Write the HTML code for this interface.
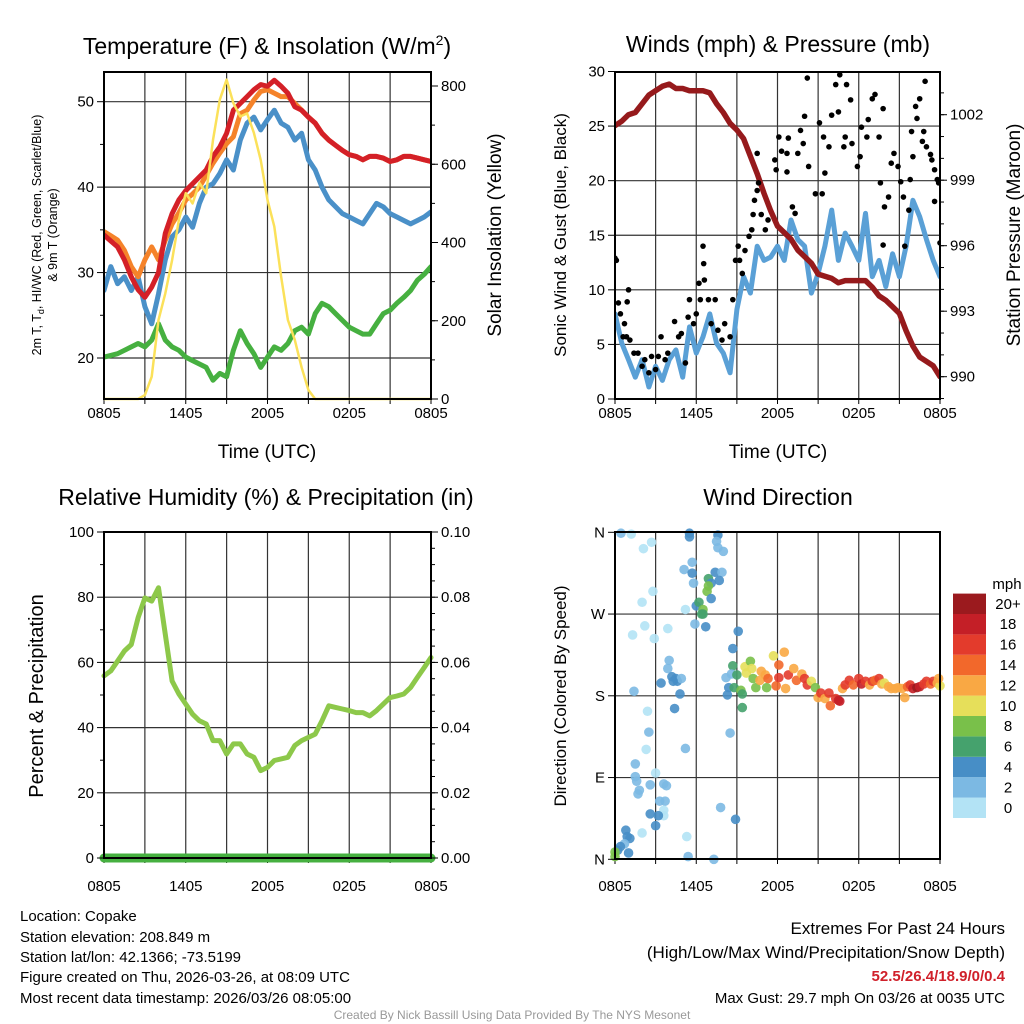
<!DOCTYPE html>
<html><head><meta charset="utf-8"><style>
html,body{margin:0;padding:0;background:#fff;}
svg{display:block;font-family:"Liberation Sans",sans-serif;}
</style></head><body>
<svg id="c" width="1024" height="1024" viewBox="0 0 1024 1024" xmlns="http://www.w3.org/2000/svg">
<rect width="1024" height="1024" fill="#fff"/>
<g id="g1"></g>
<g id="g2"></g>
<g id="g3"></g>
<g id="g4"></g>

<text x="267" y="54" font-size="23" text-anchor="middle">Temperature (F) &amp; Insolation (W/m<tspan font-size="14" dy="-9">2</tspan><tspan dy="9">)</tspan></text>
<text x="778" y="52" font-size="23" text-anchor="middle">Winds (mph) &amp; Pressure (mb)</text>
<text x="266" y="505" font-size="23" text-anchor="middle">Relative Humidity (%) &amp; Precipitation (in)</text>
<text x="778" y="505" font-size="23" text-anchor="middle">Wind Direction</text>

<text x="267" y="458" font-size="19" text-anchor="middle">Time (UTC)</text>
<text x="778" y="458" font-size="19" text-anchor="middle">Time (UTC)</text>

<text transform="translate(41,235) rotate(-90)" font-size="12.5" text-anchor="middle">2m T, T<tspan font-size="9" dy="3">d</tspan><tspan dy="-3">, HI/WC (Red, Green, Scarlet/Blue)</tspan></text>
<text transform="translate(57,235) rotate(-90)" font-size="12.5" text-anchor="middle">&amp; 9m T (Orange)</text>
<text transform="translate(501,235) rotate(-90)" font-size="19" text-anchor="middle">Solar Insolation (Yellow)</text>
<text transform="translate(566,235) rotate(-90)" font-size="17" text-anchor="middle">Sonic Wind &amp; Gust (Blue, Black)</text>
<text transform="translate(1020,235) rotate(-90)" font-size="19" text-anchor="middle">Station Pressure (Maroon)</text>
<text transform="translate(43,696) rotate(-90)" font-size="20" text-anchor="middle">Percent &amp; Precipitation</text>
<text transform="translate(566,696) rotate(-90)" font-size="17" text-anchor="middle">Direction (Colored By Speed)</text>

<g font-size="15">
<text x="20" y="921">Location: Copake</text>
<text x="20" y="942">Station elevation: 208.849 m</text>
<text x="20" y="962">Station lat/lon: 42.1366; -73.5199</text>
<text x="20" y="982">Figure created on Thu, 2026-03-26, at 08:09 UTC</text>
<text x="20" y="1003">Most recent data timestamp: 2026/03/26 08:05:00</text>
</g>
<g text-anchor="end">
<text x="1005" y="934" font-size="17">Extremes For Past 24 Hours</text>
<text x="1005" y="958" font-size="17">(High/Low/Max Wind/Precipitation/Snow Depth)</text>
<text x="1005" y="981" font-size="15" font-weight="bold" fill="#d0202a">52.5/26.4/18.9/0/0.4</text>
<text x="1005" y="1003" font-size="15">Max Gust: 29.7 mph On 03/26 at 0035 UTC</text>
</g>
<text x="512" y="1019" font-size="12" fill="#999" text-anchor="middle">Created By Nick Bassill Using Data Provided By The NYS Mesonet</text>
</svg>
<script>
// ---------- data ----------
const timeLabels = ["0805","1405","2005","0205","0805"];
const tHalf = [0,0.5,1,1.5,2,2.5,3,3.5,4,4.5,5,5.5,6,6.5,7,7.5,8,8.5,9,9.5,10,10.5,11,11.5,12,12.5,13,13.5,14,14.5,15,15.5,16,16.5,17,17.5,18,18.5,19,19.5,20,20.5,21,21.5,22,22.5,23,23.5,24];
const tempRed = [34.4,33.7,33,31.5,29.5,28,27.1,28.3,30,34.6,36.9,38.5,39.6,40.4,41.2,42,43.6,44.7,46.3,49,49.8,50.6,51.4,52,51.8,52.5,51.8,51,49.4,49,48.2,47.5,46.3,45.5,44.9,44.3,43.8,43.6,43.2,43.6,43.6,43.4,43,43.2,43.6,43.6,43.4,43.2,43];
const temp9m = [34.8,34.3,33.8,32.6,30.7,29.5,31.5,33,31.5,33.8,35.7,37,38.5,39.2,40,41.4,42.8,44,45.1,45.9,48.6,49,50.2,51.2,51.4,51,50.6,50.6,49.8,49,48.2,47.5,46.3,45.5,44.9,44.3,43.8,43.6,43.2,43.6,43.6,43.4,43,43.2,43.6,43.6,43.4,43.2,43];
const hiwcBlue = [27.9,30.7,28.7,29.5,27.9,29.5,26,24,27.5,31.5,34.2,35,36.5,35.3,38.1,40,40.4,41.6,43.2,42,45.5,47.5,48.2,46.7,47.9,49,47.5,47,45.5,46.3,43.2,42,40,38.5,37.7,36.9,36.5,36.1,35.7,36.9,38.1,37.7,36.9,36.5,36.1,35.7,36.1,36.5,37.1];
const dewGreen = [20.1,20.3,20.5,20.9,21.3,21.7,21.3,22.1,24,22.1,21.3,20.9,20.1,19.7,19.3,18.9,17.4,18.2,17.8,20.9,23.2,21.7,20.5,18.9,20.1,21.3,20.9,21.7,23.2,23.6,22.8,25.2,26.4,26,25.2,24.4,23.6,23.2,22.8,22.8,24,25.2,25.6,26.4,27.1,27.9,29.1,29.8,30.7];
const solar = [0,0,0,0,0,0,10,57,202,270,355,458,526,500,552,526,662,765,816,756,722,730,680,611,509,441,313,202,151,81,23,0,0,0,0,0,0,0,0,0,0,0,0,0,0,0,0,0,0];
const pressure = [1001.5,1001.7,1002,1002.1,1002.5,1002.9,1003.1,1003.3,1003.4,1003.2,1003.2,1003.1,1003.1,1003.1,1003,1002.5,1002.1,1001.6,1001.3,1000.9,1000.1,999.3,998.4,997.6,996.9,996.6,996.3,995.8,995.5,995.2,994.7,994.6,994.5,994.3,994.4,994.4,994.4,994.4,994.1,993.7,993.5,993.2,992.9,992.1,991.4,990.9,990.7,990.5,990];
const windBlue = [7.8,5.1,3.6,2,3.6,1.1,3,1.7,3.6,4.5,2,6.6,4.2,5.7,7.8,5.1,4.2,2.4,8.2,11.2,9.7,14,12.7,13,14,12.7,16.4,14.6,14,9.7,11.5,14,17.3,12.7,15.2,14,12.7,17,11.2,12.7,10.3,13.3,11.2,14,18.2,16.7,14.6,12.7,11.2];
const rh = [55.9,57.4,60.4,63.5,65.5,73.7,79.8,78.8,82.9,68.6,54.3,50.3,47.2,44.1,42.1,41.1,36,36,31.9,35,35,31.9,30.9,26.8,27.8,29.9,30.4,30.9,34.5,36,37,38,42.1,46.7,46.2,45.7,45.2,44.6,44.6,43.6,45.2,47.2,49.2,49.7,50.3,52.3,55.4,58.4,61.5];
const precip = [0,0,0,0,0,0,0,0,0,0,0,0,0,0,0,0,0,0,0,0,0,0,0,0,0,0,0,0,0,0,0,0,0,0,0,0,0,0,0,0,0,0,0,0,0,0,0,0,0];
const gustT = [0,0.1,0.25,0.4,1,0.9,0.7,0.85,0.6,1.1,1.4,1.7,2,2.2,2.5,2.7,3,3.2,3.4,3.7,3.9,4.4,4.7,4.9,5.2,5.4,5.5,5.8,6,6.2,6.3,6.5,6.55,6.6,6.9,7.1,7.4,7.6,7.9,8.1,8.5,8.7,8.9,9.1,9.2,9.4,9.6,9.9,10.1,10.2,10.3,10.5,10.6,10.8,11.1,11.3,10.5,11.8,11.9,12.1,12.3,12.7,12.8,12.7,13.1,13.3,13.5,13.7,13.9,14.2,14.3,14,14.8,15.1,15.3,15.4,15.5,15.8,16,16.3,16.5,16.6,16.9,17,17.1,17.4,17.5,17.9,18.1,18.2,18.6,18.7,19,19.2,19.5,19.8,19.6,19.9,20.2,19.8,20.4,20.6,20.9,21.1,21.3,21.4,21.7,21.8,21.9,22,22.2,22.3,22.5,22.7,22.8,22.9,23,23.3,23.4,23.6,23.8,23.6,23.9,24];
const gustW = [12.9,12.7,8.8,7.8,10,8.9,6.9,5.7,5.7,5.4,4.2,4.2,3,3.6,2.4,3.9,2.7,3.9,5.7,3.6,4.2,7.1,5.7,6,3.3,7.5,9.1,6.9,7.8,10.6,9.1,14,12.4,10.9,9.1,6.9,9.1,6.3,5.4,6.9,5.7,9.1,12.7,14,12.7,11.5,13.6,14.9,15.5,16.9,18.2,19.1,19.8,16.9,15.5,16.4,22.5,21.9,21,24,22.7,22.5,23.9,20.8,17.6,17,22.5,24.6,23.4,29.4,21.3,25.9,18.8,25.3,18.8,24,20.7,23.1,26,28.8,26.3,29.7,23.1,24,28.8,27.4,23.4,21.3,22.2,24.9,24,25.6,27.5,27.9,24,26.6,19.8,17.6,18.5,14.1,21.6,22.5,21.3,19.9,18.5,14,17.3,20.1,24.5,22.2,26.8,25.7,27.5,23.6,24.5,29.1,23.1,22.4,21.9,21,20.1,18.1,19.8,14.3];
const dirT = [0.44,1.2,2.1,2.7,2.8,2,2.2,1.3,2.9,3.9,5.2,5.1,1.4,2.4,2.5,2.3,1.5,1.5,1.6,1.8,1.7,3,2.6,3.6,3.8,3.3,3.7,3.6,3.6,3.2,3,2.6,2,0.8,0.9,1.1,0.7,0.4,0.2,1,0,0,5.3,5.4,7.3,7.8,8.9,8.5,5.2,4.4,4.8,3.4,4,3.9,4.2,4.5,4.6,4.9,4.3,5.5,5.5,7.6,7.5,7.6,8,5.7,5.7,5.8,7.4,7.9,7.7,6.9,7.1,6.8,6.9,7.1,6,6.2,6.5,6.5,6.4,5.9,6.7,9.1,8.7,8.7,8.2,8.6,9,8.4,8.8,8.3,9.3,9.4,9.4,9.6,9.7,10,10.1,10.2,10.4,10.7,10.8,11.1,11.2,11.3,11.7,11.9,12.1,12.1,12.5,12.6,12.8,13.2,13.4,13.8,14,14.2,14.5,14.8,15,15.2,15.5,15.8,15.9,16.3,16.5,16.6,16.8,17,17.3,17.6,18,18.2,18.5,18.8,19,19.2,19.5,19.7,19.9,20.2,20.4,20.7,20.9,21.2,21.4,21.6,21.8,22,22.3,22.5,22.8,23,23.3,23.5,23.8,24,23.9];
const dirDeg = [359,358,342,349,295,283,257,247,243,254,275,319,185,163,140,121,105,91,86,76,72,95,82,83,81,64,64,54,48,48,37,50,29,32,25,23,17,14,10,7,8,3,25,3,0,57,44,139,122,166,182,194,219,210,201,199,196,199,196,359,355,357,350,343,339,327,315,304,316,316,307,309,304,295,301,287,279,283,275,270,270,259,256,251,232,213,200,204,203,189,189,181,186,182,167,212,205,218,210,199,189,197,207,203,189,199,224,191,214,200,228,188,203,210,197,204,199,192,196,189,178,183,177,183,169,177,175,174,188,192,197,192,199,193,196,192,196,197,199,193,194,190,188,188,189,188,178,190,192,188,189,190,193,196,193,196,194,191,199];
const dirSpd = [2,0,0,0,0,0,0,0,0,0,0,2,2,0,2,0,2,2,2,2,2,0,2,2,2,2,2,0,0,4,4,4,0,4,4,4,2,4,4,4,8,8,0,2,2,2,4,2,2,4,4,4,2,2,4,4,4,2,4,4,4,4,2,2,2,2,4,2,4,2,4,6,4,8,8,4,4,6,8,6,6,2,4,4,4,6,2,2,6,4,6,4,8,6,6,10,10,8,10,8,8,12,12,12,8,14,10,14,14,16,12,12,16,12,14,12,16,16,10,8,12,16,12,16,14,16,18,18,12,16,16,14,16,18,16,12,16,14,16,12,10,12,12,12,12,12,12,14,16,18,20,18,16,16,14,16,12,10,12];
const cbLabels = ["0","2","4","6","8","10","12","14","16","18","20+"];
const cbColors = ["#b3e3f5","#7cb9e3","#478ec6","#45a26d","#79c04a","#e6df5a","#f9a844","#f2682b","#e33b2c","#c41f27","#9b1a1e"];

// ---------- helpers ----------
const NS="http://www.w3.org/2000/svg";
function mk(parent,tag,attrs,txt){const e=document.createElementNS(NS,tag);for(const k in attrs)e.setAttribute(k,attrs[k]);if(txt!==undefined)e.textContent=txt;parent.appendChild(e);return e;}
function makeX(x0,x1){return t=>x0+(x1-x0)*t/24;}
function lin(v0,p0,v1,p1){return v=>p0+(v-v0)*(p1-p0)/(v1-v0);}
function pathD(xs,ys,ts,vals){return vals.map((v,i)=>(i?'L':'M')+xs(ts[i]).toFixed(1)+','+ys(v).toFixed(1)).join('');}

function frame(g,x0,x1,y0,y1,xs,hy,ly){
  for(let h=3;h<24;h+=3){const l=mk(g,'line',{x1:xs(h),x2:xs(h),y1:y0,y2:y1,stroke:'#333','stroke-width':1.2});
    }
  hy.forEach(y=>{const l=mk(g,'line',{x1:x0,x2:x1,y1:y,y2:y,stroke:'#333','stroke-width':1.2});
    });
  for(let h=0;h<=24;h+=3){mk(g,'line',{x1:xs(h),x2:xs(h),y1:y1,y2:y1+5,stroke:'#000','stroke-width':1});}
  timeLabels.forEach((s,i)=>{const t=mk(g,'text',{x:xs(i*6),y:ly,'font-size':15,'text-anchor':'middle'},s);
    });
}
function border(g,x0,x1,y0,y1){const r=mk(g,'rect',{x:x0,y:y0,width:x1-x0,height:y1-y0,fill:'none',stroke:'#000','stroke-width':2});
  }
function leftTicks(g,x0,ys,vals,labs,minor){
  minor.forEach(v=>mk(g,'line',{x1:x0-4,x2:x0,y1:ys(v),y2:ys(v),stroke:'#000','stroke-width':1}));
  vals.forEach((v,i)=>{mk(g,'line',{x1:x0-7,x2:x0,y1:ys(v),y2:ys(v),stroke:'#000','stroke-width':1});
    const t=mk(g,'text',{x:x0-10,y:ys(v)+5,'font-size':15,'text-anchor':'end'},labs[i]);
    });
}
function rightTicks(g,x1,ys,vals,labs,minor){
  minor.forEach(v=>mk(g,'line',{x1:x1,x2:x1+4,y1:ys(v),y2:ys(v),stroke:'#000','stroke-width':1}));
  vals.forEach((v,i)=>{mk(g,'line',{x1:x1,x2:x1+7,y1:ys(v),y2:ys(v),stroke:'#000','stroke-width':1});
    const t=mk(g,'text',{x:x1+10,y:ys(v)+5,'font-size':15},labs[i]);
    });
}
function series(g,d,col,w,name){const p=mk(g,'path',{d:d,fill:'none',stroke:col,'stroke-width':w,'stroke-linejoin':'round','stroke-linecap':'round'});
  return p;}
function range(a,b,s){const r=[];for(let v=a;v<=b+1e-9;v+=s)r.push(+v.toFixed(4));return r;}

// ---------- panel 1 ----------
(function(){
  const g=document.getElementById('g1');const x0=104,x1=431,y0=72,y1=399;
  const xs=makeX(x0,x1);const yT=lin(20,358,50,101.7);const yS=lin(0,399,800,86);
  frame(g,x0,x1,y0,y1,xs,[20,30,40,50].map(yT),418);
  const cp=mk(g,'clipPath',{id:'cp1'});mk(cp,'rect',{x:x0,y:y0-10,width:x1-x0,height:y1-y0+12});
  const s=mk(g,'g',{'clip-path':'url(#cp1)'});
  series(s,pathD(xs,yT,tHalf,dewGreen),'#46b040',5,'dewpoint-line');
  series(s,pathD(xs,yT,tHalf,hiwcBlue),'#4a90c8',5,'windchill-line');
  series(s,pathD(xs,yT,tHalf,temp9m),'#f5832a',5,'temp-9m-line');
  series(s,pathD(xs,yT,tHalf,tempRed),'#d42027',5,'temp-2m-line');
  series(s,pathD(xs,yS,tHalf,solar),'#fbe15a',2.5,'insolation-line');
  border(g,x0,x1,y0,y1);
  leftTicks(g,x0,yT,[20,30,40,50],['20','30','40','50'],[25,35,45]);
  rightTicks(g,x1,yS,[0,200,400,600,800],['0','200','400','600','800'],range(100,800,100));
})();

// ---------- panel 2 ----------
(function(){
  const g=document.getElementById('g2');const x0=615,x1=940,y0=72,y1=399;
  const xs=makeX(x0,x1);const yW=lin(0,399,30,71.5);const yP=lin(990,376.7,1002,114.7);
  frame(g,x0,x1,y0,y1,xs,[5,10,15,20,25].map(yW),418);
  const cp=mk(g,'clipPath',{id:'cp2'});mk(cp,'rect',{x:x0,y:y0-5,width:x1-x0,height:y1-y0+8});
  const s=mk(g,'g',{'clip-path':'url(#cp2)'});
  series(s,pathD(xs,yW,tHalf,windBlue),'#5aa0d6',5,'sonic-wind-line');
  series(s,pathD(xs,yP,tHalf,pressure),'#961a1c',5.5,'pressure-line');
  gustT.forEach((t,i)=>{const c=mk(s,'circle',{cx:xs(t),cy:yW(gustW[i]),r:2.8,fill:'#000'});
    });
  border(g,x0,x1,y0,y1);
  leftTicks(g,x0,yW,[0,5,10,15,20,25,30],['0','5','10','15','20','25','30'],[]);
  rightTicks(g,x1,yP,[990,993,996,999,1002],['990','993','996','999','1002'],range(989,1004,1).filter(v=>yP(v)>=y0&&yP(v)<=y1));
})();

// ---------- panel 3 ----------
(function(){
  const g=document.getElementById('g3');const x0=104,x1=431,y0=532,y1=858;
  const xs=makeX(x0,x1);const yR=lin(0,858,100,532);const yQ=lin(0,858,0.1,532);
  frame(g,x0,x1,y0,y1,xs,[20,40,60,80].map(yR),891);
  series(g,pathD(xs,yR,tHalf,rh),'#8dc84a',5,'humidity-line');
  series(g,pathD(xs,yQ,tHalf,precip),'#46b040',9,'precipitation-line');
  border(g,x0,x1,y0,y1);
  leftTicks(g,x0,yR,[0,20,40,60,80,100],['0','20','40','60','80','100'],[10,30,50,70,90]);
  rightTicks(g,x1,yQ,[0,0.02,0.04,0.06,0.08,0.1],['0.00','0.02','0.04','0.06','0.08','0.10'],range(0,0.1,0.005));
})();

// ---------- panel 4 ----------
(function(){
  const g=document.getElementById('g4');const x0=615,x1=940,y0=532,y1=859;
  const xs=makeX(x0,x1);const yD=lin(0,859.3,360,532.3);
  frame(g,x0,x1,y0,y1,xs,[90,180,270].map(yD),891);
  const cp=mk(g,'clipPath',{id:'cp4'});mk(cp,'rect',{x:x0-6,y:y0-6,width:x1-x0+12,height:y1-y0+12});
  const s=mk(g,'g',{'clip-path':'url(#cp4)'});
  dirT.forEach((t,i)=>{const idx=Math.min(10,Math.floor(dirSpd[i]/2));
    const c=mk(s,'circle',{cx:xs(t),cy:yD(dirDeg[i]),r:4.8,fill:cbColors[idx],'fill-opacity':0.9});
    });
  border(g,x0,x1,y0,y1);
  leftTicks(g,x0,yD,[0,90,180,270,360],['N','E','S','W','N'],[]);
  const cb=mk(g,'g',{});
  const bx=953,bw=33,by=818,bh=20.4;
  cbColors.forEach((c,i)=>{const r=mk(cb,'rect',{x:bx,y:by-(i+1)*bh,width:bw,height:bh,fill:c});
    
    const t=mk(cb,'text',{x:1008,y:by-(i+0.5)*bh+5,'font-size':15,'text-anchor':'middle'},cbLabels[i]);
    });
  const u=mk(cb,'text',{x:1007,y:589,'font-size':15,'text-anchor':'middle'},'mph');
  
})();
</script>
</body></html>
